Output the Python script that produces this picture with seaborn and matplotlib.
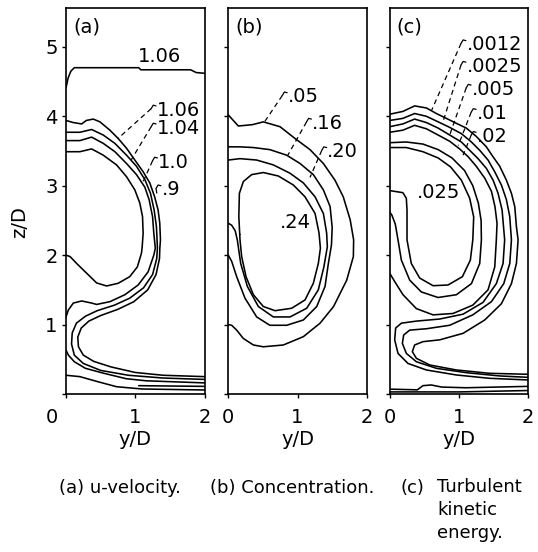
import numpy as np
import pandas as pd
import matplotlib
matplotlib.use("Agg")
import matplotlib.pyplot as plt
import seaborn as sns
from matplotlib.transforms import ScaledTranslation

# ---------------- panel (a): u-velocity contours (y/D, z/D) ----------------
a_top106_y = [0.0, 0.03, 0.07, 0.12, 0.55, 1.05, 1.08, 1.80, 1.88, 2.0]
a_top106_z = [4.41, 4.55, 4.65, 4.70, 4.70, 4.70, 4.67, 4.67, 4.63, 4.62]

a_106_y = [0, 0.105, 0.226, 0.293, 0.394, 0.49, 0.634, 0.754, 0.874, 0.994, 1.115, 1.21, 1.28, 1.33, 1.354,
           1.364, 1.355, 1.35, 1.30, 1.18, 0.98, 0.75, 0.5, 0.33, 0.22, 0.17, 0.18, 0.25, 0.4, 0.65, 1.0, 1.4, 2.0]
a_106_z = [3.94, 3.91, 3.89, 3.94, 3.96, 3.92, 3.80, 3.68, 3.54, 3.37, 3.20, 3.04, 2.84, 2.65, 2.46,
           2.22, 2.1, 1.95, 1.72, 1.5, 1.33, 1.22, 1.13, 1.05, 0.95, 0.82, 0.68, 0.56, 0.47, 0.39, 0.31, 0.27, 0.25]

a_104_y = [0, 0.2, 0.37, 0.538, 0.706, 0.874, 1.018, 1.138, 1.22, 1.273, 1.306, 1.316, 1.32, 1.31, 1.25,
           1.12, 0.92, 0.7, 0.45, 0.28, 0.15, 0.09, 0.08, 0.12, 0.25, 0.5, 0.9, 1.4, 2.0]
a_104_z = [3.77, 3.77, 3.81, 3.73, 3.61, 3.44, 3.28, 3.09, 2.89, 2.65, 2.41, 2.2, 2.1, 1.95, 1.72,
           1.53, 1.38, 1.28, 1.2, 1.12, 1.02, 0.88, 0.72, 0.56, 0.44, 0.34, 0.27, 0.23, 0.21]

a_100_y = [0, 0.2, 0.37, 0.538, 0.706, 0.874, 1.018, 1.138, 1.20, 1.25, 1.268, 1.29, 1.268, 1.186, 1.042,
           0.85, 0.634, 0.442, 0.37, 0.226, 0.106, 0.034, 0]
a_100_z = [3.65, 3.65, 3.70, 3.61, 3.49, 3.32, 3.16, 2.98, 2.80, 2.555, 2.315, 2.1, 2.0, 1.76, 1.57,
           1.43, 1.33, 1.29, 1.31, 1.34, 1.31, 1.21, 1.11]

a_090_y = [0, 0.20, 0.37, 0.538, 0.73, 0.874, 0.994, 1.066, 1.105, 1.114, 1.10, 1.09, 1.03, 0.92, 0.754,
           0.586, 0.442, 0.298, 0.154, 0.058, 0]
a_090_z = [3.49, 3.49, 3.53, 3.44, 3.30, 3.13, 2.94, 2.75, 2.555, 2.315, 2.12, 2.03, 1.83, 1.69, 1.595,
           1.556, 1.60, 1.74, 1.88, 1.98, 2.0]

a_wall1_y = [0, 0.034, 0.12, 0.28, 0.54, 0.87, 1.16, 2.0]
a_wall1_z = [0.634, 0.56, 0.465, 0.37, 0.30, 0.22, 0.19, 0.16]
a_wall2_y = [0, 0.2, 0.45, 0.73, 1.1, 2.0]
a_wall2_z = [0.27, 0.25, 0.18, 0.105, 0.072, 0.058]
a_streak_y = [1.05, 1.5, 2.0]
a_streak_z = [0.12, 0.115, 0.11]

# ---------------- panel (b): concentration contours ----------------
b_05_y = [0, 0.145, 0.35, 0.506, 0.747, 0.964, 1.18, 1.373, 1.54, 1.66, 1.76, 1.81, 1.806, 1.71, 1.52,
          1.325, 1.084, 0.795, 0.506, 0.362, 0.217, 0.121, 0.049, 0]
b_05_z = [4.02, 3.86, 3.88, 3.92, 3.85, 3.68, 3.52, 3.32, 3.08, 2.84, 2.51, 2.22, 1.98, 1.64, 1.26,
          1.02, 0.826, 0.706, 0.68, 0.706, 0.80, 0.92, 0.99, 1.0]

b_16_y = [0, 0.169, 0.362, 0.60, 0.843, 1.036, 1.228, 1.373, 1.47, 1.50, 1.49, 1.445, 1.397, 1.277, 1.084,
          0.843, 0.60, 0.41, 0.241, 0.121, 0.049, 0]
b_16_z = [3.56, 3.56, 3.55, 3.52, 3.44, 3.32, 3.16, 2.94, 2.70, 2.40, 2.15, 1.88, 1.55, 1.26, 1.066,
          0.99, 0.99, 1.11, 1.38, 1.69, 1.91, 2.0]

b_20_y = [0, 0.169, 0.41, 0.65, 0.891, 1.084, 1.253, 1.373, 1.42, 1.43, 1.38, 1.30, 1.132, 0.891, 0.65,
          0.434, 0.275, 0.179, 0.13, 0.10, 0.05, 0]
b_20_z = [3.37, 3.39, 3.37, 3.30, 3.18, 3.04, 2.84, 2.60, 2.32, 2.12, 1.83, 1.50, 1.235, 1.11, 1.11,
          1.26, 1.55, 1.88, 2.22, 2.35, 2.43, 2.46]

b_24_y = [0.165, 0.152, 0.16, 0.217, 0.337, 0.506, 0.723, 0.94, 1.108, 1.253, 1.31, 1.33, 1.30, 1.228,
          1.108, 0.915, 0.675, 0.506, 0.362, 0.256, 0.193, 0.169, 0.165]
b_24_z = [2.30, 2.555, 2.89, 3.06, 3.16, 3.19, 3.14, 3.01, 2.84, 2.60, 2.32, 2.10, 1.88, 1.595,
          1.355, 1.235, 1.20, 1.26, 1.43, 1.69, 1.98, 2.22, 2.30]

# ---------------- panel (c): turbulent kinetic energy contours ----------------
c_0012_y = [0, 0.19, 0.36, 0.53, 0.674, 0.818, 0.96, 1.107, 1.25, 1.396, 1.49, 1.589, 1.685, 1.758, 1.806,
            1.83, 1.854, 1.83, 1.758, 1.613, 1.372, 1.06, 0.722, 0.481, 0.36, 0.327, 0.385, 0.578, 0.963,
            1.44, 2.0]
c_0012_z = [4.03, 4.07, 4.15, 4.12, 4.04, 3.97, 3.90, 3.83, 3.71, 3.56, 3.42, 3.28, 3.08, 2.89, 2.70,
            2.41, 2.22, 1.88, 1.59, 1.30, 1.066, 0.874, 0.78, 0.754, 0.706, 0.61, 0.514, 0.418, 0.346,
            0.298, 0.284]

c_0025_y = [0, 0.19, 0.36, 0.53, 0.70, 0.867, 1.035, 1.18, 1.30, 1.42, 1.517, 1.613, 1.685, 1.733, 1.758,
            1.734, 1.647, 1.469, 1.20, 0.866, 0.53, 0.289, 0.202, 0.183, 0.24, 0.385, 0.674, 1.107, 1.589,
            2.0]
c_0025_z = [3.94, 3.97, 4.04, 4.00, 3.92, 3.84, 3.75, 3.63, 3.51, 3.37, 3.20, 3.01, 2.80, 2.56, 2.22,
            1.88, 1.59, 1.33, 1.14, 0.99, 0.94, 0.92, 0.85, 0.73, 0.585, 0.465, 0.37, 0.307, 0.26, 0.24]

c_005_y = [0, 0.19, 0.36, 0.53, 0.70, 0.867, 1.035, 1.155, 1.276, 1.396, 1.493, 1.565, 1.623, 1.66, 1.637,
           1.54, 1.348, 1.06, 0.722, 0.385, 0.168, 0.086, 0.072, 0.12, 0.264, 0.53, 0.963, 1.44, 2.0]
c_005_z = [3.85, 3.89, 3.96, 3.91, 3.83, 3.73, 3.63, 3.51, 3.39, 3.25, 3.08, 2.89, 2.65, 2.22, 1.88,
           1.59, 1.32, 1.15, 1.08, 1.05, 1.02, 0.95, 0.78, 0.585, 0.44, 0.346, 0.274, 0.226, 0.202]

c_01_y = [0, 0.19, 0.36, 0.53, 0.70, 0.867, 1.01, 1.131, 1.25, 1.372, 1.469, 1.52, 1.55, 1.54, 1.517,
          1.42, 1.20, 0.915, 0.626, 0.385, 0.192, 0.072, 0]
c_01_z = [3.77, 3.80, 3.87, 3.82, 3.73, 3.64, 3.53, 3.42, 3.28, 3.11, 2.92, 2.70, 2.46, 2.22, 1.83,
          1.50, 1.28, 1.16, 1.14, 1.23, 1.43, 1.62, 1.74]

c_02_y = [0, 0.24, 0.48, 0.70, 0.90, 1.08, 1.20, 1.28, 1.32, 1.324, 1.30, 1.18, 0.963, 0.698, 0.457,
          0.289, 0.168, 0.12, 0.08, 0.03, 0]
c_02_z = [3.62, 3.63, 3.60, 3.52, 3.40, 3.22, 3.00, 2.75, 2.50, 2.22, 1.88, 1.59, 1.43, 1.39, 1.47,
          1.64, 1.93, 2.22, 2.45, 2.58, 2.62]

c_025_y = [0, 0.24, 0.48, 0.70, 0.88, 1.035, 1.155, 1.213, 1.20, 1.165, 1.05, 0.842, 0.626, 0.433, 0.312,
           0.25, 0.25, 0.24, 0.19, 0]
c_025_z = [3.55, 3.55, 3.49, 3.40, 3.27, 3.08, 2.82, 2.55, 2.22, 1.93, 1.69, 1.57, 1.56, 1.67, 1.88,
           2.22, 2.65, 2.82, 2.90, 2.93]

c_floor1_y = [0, 0.4, 0.48, 0.6, 0.75, 1.1, 2.0]
c_floor1_z = [0.07, 0.06, 0.12, 0.13, 0.10, 0.09, 0.11]
c_floor2_y = [0, 1.0, 2.0]
c_floor2_z = [0.03, 0.03, 0.05]

# ---------------- labels ----------------
a_labels = ["1.06", "1.06", "1.04", "1.0", ".9"]
b_labels = [".05", ".16", ".20", ".24"]
c_labels = [".0012", ".0025", ".005", ".01", ".02", ".025"]

x_ticks = [0, 1, 2]
y_ticks = [0, 1, 2, 3, 4, 5]
x_label = "y/D"
y_label = "z/D"
panel_tags = ["(a)", "(b)", "(c)"]


def frame(lines):
    parts = []
    for name, (ys, zs) in lines.items():
        parts.append(pd.DataFrame({"y": ys, "z": zs, "line": name}))
    return pd.concat(parts, ignore_index=True)


df_a = frame({"top": (a_top106_y, a_top106_z), "106": (a_106_y, a_106_z), "104": (a_104_y, a_104_z),
              "100": (a_100_y, a_100_z), "090": (a_090_y, a_090_z), "w1": (a_wall1_y, a_wall1_z),
              "w2": (a_wall2_y, a_wall2_z), "st": (a_streak_y, a_streak_z)})
df_b = frame({"05": (b_05_y, b_05_z), "16": (b_16_y, b_16_z), "20": (b_20_y, b_20_z), "24": (b_24_y, b_24_z)})
df_c = frame({"0012": (c_0012_y, c_0012_z), "0025": (c_0025_y, c_0025_z), "005": (c_005_y, c_005_z),
              "01": (c_01_y, c_01_z), "02": (c_02_y, c_02_z), "025": (c_025_y, c_025_z),
              "f1": (c_floor1_y, c_floor1_z), "f2": (c_floor2_y, c_floor2_z)})

sns.set_style("ticks")
plt.rcParams["font.family"] = ["DejaVu Sans"]
plt.rcParams["text.color"] = "black"

W, H = 538, 552
fig = plt.figure(figsize=(W / 100, H / 100), dpi=100)

lefts = [66, 228.3, 389.7]
axes = []
for lx in lefts:
    axes.append(fig.add_axes([lx / W, 1 - 394 / H, 138.5 / W, 386 / H]))

FS = 14
for ax, df in zip(axes, [df_a, df_b, df_c]):
    sns.lineplot(data=df, x="y", y="z", units="line", estimator=None, sort=False,
                 color="black", lw=1.15, ax=ax, legend=False)
    ax.set_xlim(0, 2.0)
    ax.set_ylim(0, 5.56)
    ax.set_xticks(x_ticks)
    ax.set_yticks(y_ticks)
    ax.set_xlabel("")
    ax.set_ylabel("")
    ax.tick_params(direction="out", length=3, width=1, labelsize=FS, pad=7, colors="black")
    ax.tick_params(axis="y", pad=3)
    for s in ax.spines.values():
        s.set_visible(True)
        s.set_color("black")
        s.set_linewidth(1.2)
    ax.text(0.5, -0.118, x_label, transform=ax.transAxes, ha="center", va="center",
            fontsize=FS, color="black")

for ax in axes[1:]:
    ax.set_yticklabels([])

axes[0].set_yticklabels(["", "1", "2", "3", "4", "5"])
lab0 = axes[0].get_xticklabels()[0]
lab0.set_transform(lab0.get_transform() + ScaledTranslation(-14 / 100, 0, fig.dpi_scale_trans))
axes[0].text(-0.338, 0.446, y_label, transform=axes[0].transAxes, rotation=90,
             ha="center", va="center", fontsize=FS, color="black")

for ax, tag in zip(axes, panel_tags):
    ax.text(0.05, 0.975, tag, transform=ax.transAxes, ha="left", va="top", fontsize=FS, color="black")

dashed = dict(color="black", lw=0.9, linestyle=(0, (4, 3)))
solid = dict(color="black", lw=0.9)


def labelled(ax, txt, ty, tz, ey, ez):
    ax.text(ty, tz, txt, ha="left", va="center", fontsize=FS, color="black")
    # small hook next to the label, then a dashed leader to the contour
    hx = [ty - 0.01, ty - 0.05, ty - 0.08]
    hz = [tz + 0.06, tz + 0.07, tz + 0.02]
    ax.plot(hx, hz, **solid)
    ax.plot([hx[-1], ey], [hz[-1], ez], **dashed)


# panel (a) annotations
ax = axes[0]
ax.text(1.35, 4.86, a_labels[0], ha="center", va="center", fontsize=FS, color="black")
for args in [(a_labels[1], 1.31, 4.09, 0.75, 3.68),
             (a_labels[2], 1.31, 3.83, 0.94, 3.37),
             (a_labels[3], 1.33, 3.34, 1.11, 3.05),
             (a_labels[4], 1.38, 2.94, 1.32, 2.84)]:
    labelled(ax, *args)

# panel (b) annotations
ax = axes[1]
for args in [(b_labels[0], 0.86, 4.28, 0.53, 3.93),
             (b_labels[1], 1.21, 3.90, 0.86, 3.44),
             (b_labels[2], 1.43, 3.49, 1.18, 3.12)]:
    labelled(ax, *args)
ax.text(0.97, 2.47, b_labels[3], ha="center", va="center", fontsize=FS, color="black")

# panel (c) annotations
ax = axes[2]
for args in [(c_labels[0], 1.11, 5.03, 0.607, 4.09),
             (c_labels[1], 1.11, 4.72, 0.775, 3.94),
             (c_labels[2], 1.185, 4.39, 0.87, 3.74),
             (c_labels[3], 1.257, 4.04, 0.99, 3.58),
             (c_labels[4], 1.257, 3.71, 1.06, 3.44)]:
    labelled(ax, *args)
ax.text(0.70, 2.90, c_labels[5], ha="center", va="center", fontsize=FS, color="black")

# captions
CF = 13
fig.text(120 / W, 1 - 488 / H, "(a) u-velocity.", ha="center", va="center", fontsize=CF)
fig.text(292 / W, 1 - 488 / H, "(b) Concentration.", ha="center", va="center", fontsize=CF)
fig.text(400 / W, 1 - 488 / H, "(c)", ha="left", va="center", fontsize=CF)
fig.text(437 / W, 1 - 478 / H, "Turbulent\nkinetic\nenergy.", ha="left", va="top",
         fontsize=CF, linespacing=1.35)

fig.savefig("out.png", dpi=100, facecolor="white")
